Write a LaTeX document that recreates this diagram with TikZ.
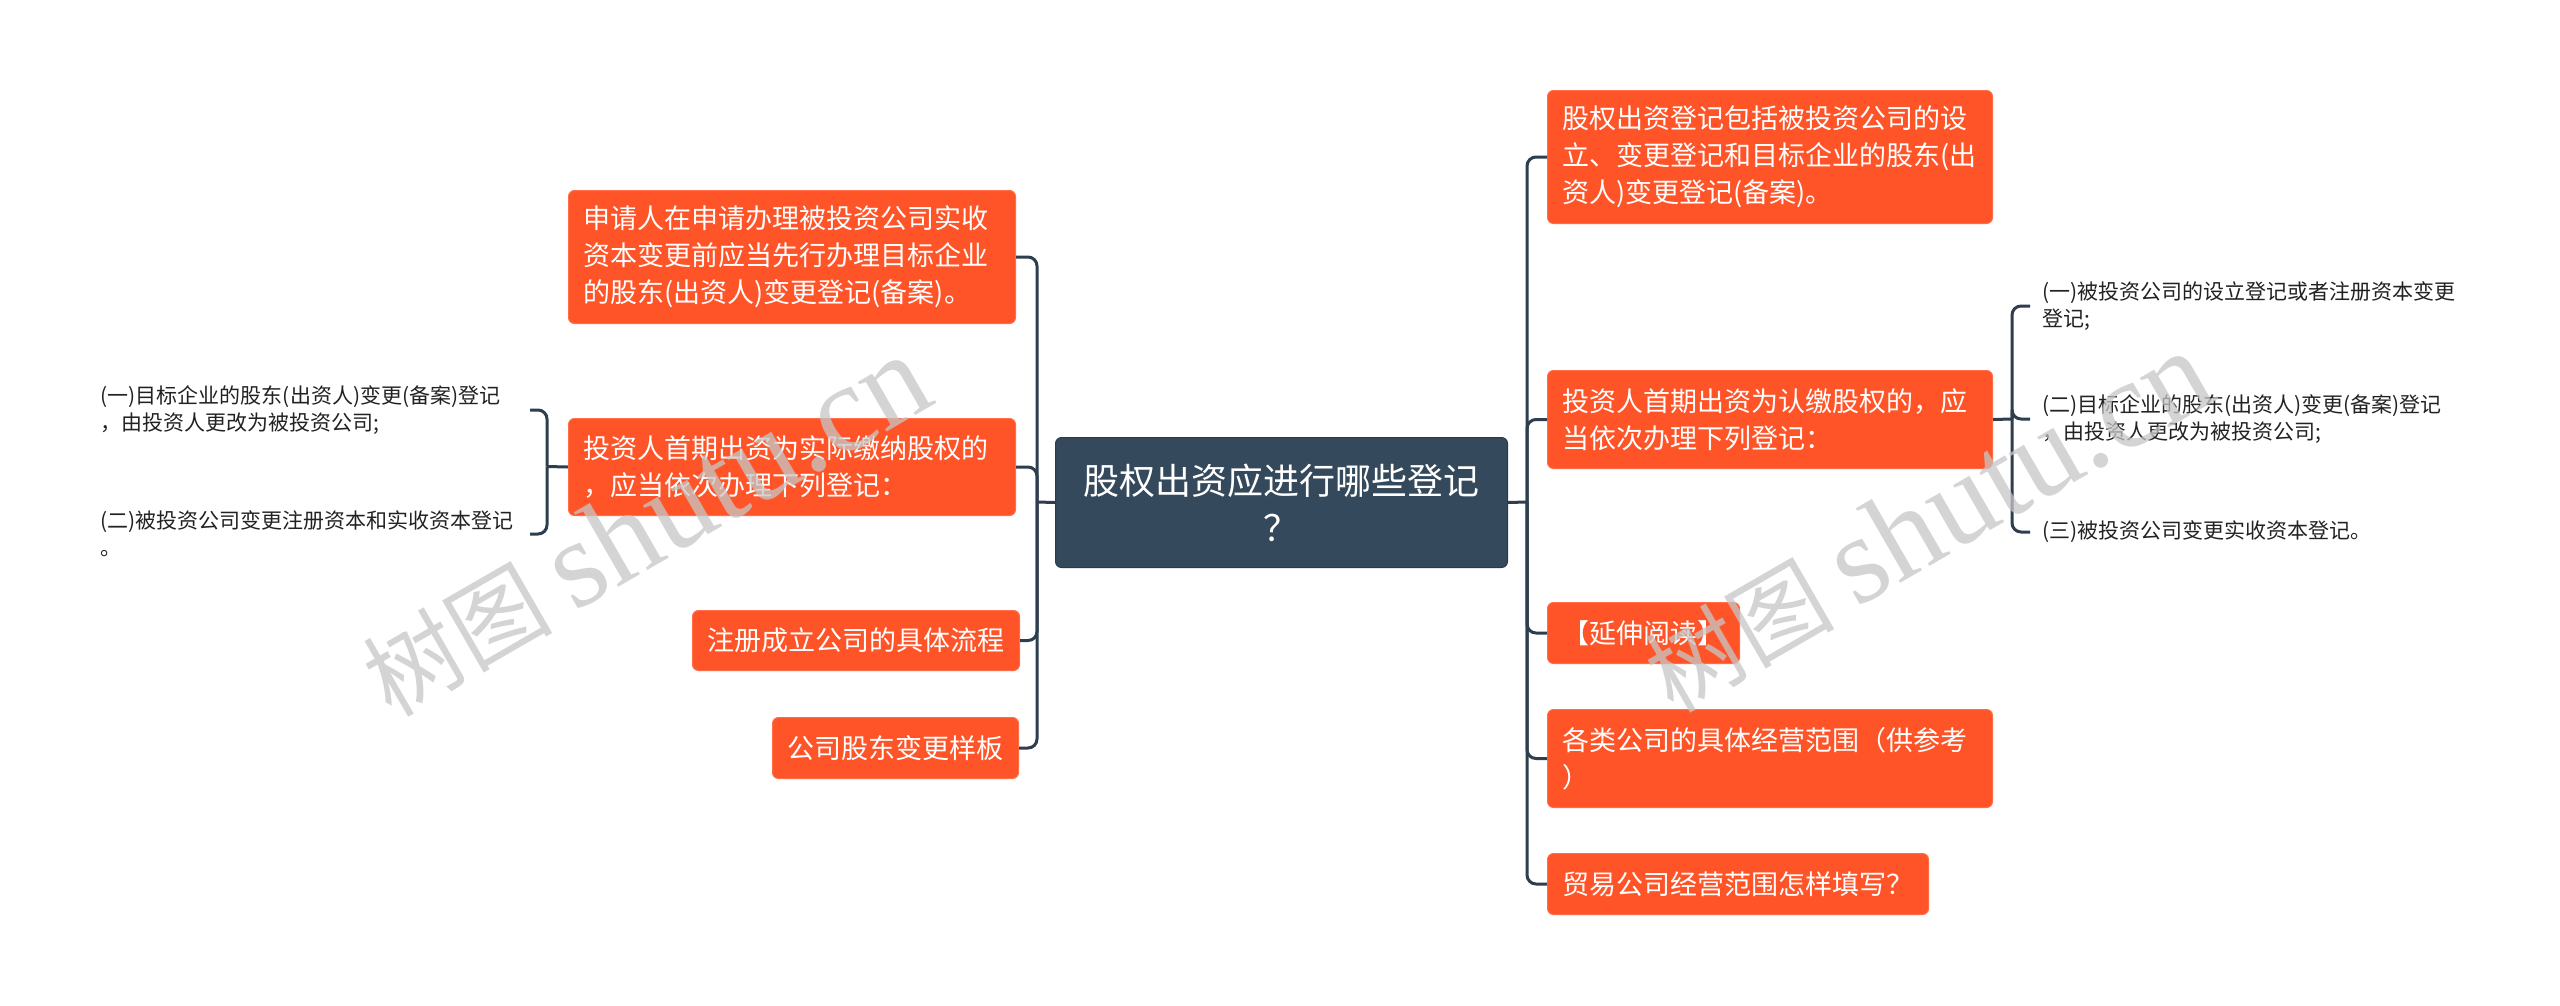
\documentclass[tikz,border=0pt]{standalone}
\usepackage{fontspec}
\setmainfont{Noto Sans CJK SC}
\newfontfamily\wmserif{Liberation Serif}
\definecolor{orangebox}{HTML}{FF5428}
\definecolor{darkbox}{HTML}{35495C}
\definecolor{linec}{HTML}{2E3E4E}
\definecolor{kidtext}{HTML}{222222}
\begin{document}
\begin{tikzpicture}[x=1pt,y=-1pt,
  box/.style={rectangle, rounded corners=6pt, fill=orangebox, draw=orangebox!85!white, line width=1pt,
    text=white, font=\fontsize{27}{37}\selectfont, inner xsep=15pt, inner ysep=0pt, anchor=north west},
  mbox/.style={box, align=left},
  sbox/.style={box, align=center},
  centre/.style={rectangle, rounded corners=6pt, fill=darkbox, draw=darkbox!80!black, line width=1pt,
    text=white, font=\fontsize{36}{47}\selectfont, align=center, inner sep=0pt, anchor=north west},
  kid/.style={font=\fontsize{21}{27}\selectfont, text=kidtext, align=left, inner xsep=12pt, inner ysep=2pt},
  conn/.style={draw=linec, line width=3pt, rounded corners=9pt},
  wm/.style={text=gray!45, opacity=0.75, rotate=30, inner sep=0pt}
]
\fill[white] (0,0) rectangle (2560,1005);
\useasboundingbox (0,0) rectangle (2560,1005);

% central
\node[centre, minimum width=452pt, minimum height=130pt] (C) at (1055,437) {股权出资应进行哪些登记\\？};

% left branch
\node[mbox, minimum width=447pt, minimum height=133pt, text width=417pt] (L1) at (568,190)
  {申请人在申请办理被投资公司实收\\资本变更前应当先行办理目标企业\\的股东(出资人)变更登记(备案)。};
\node[mbox, minimum width=447pt, minimum height=97pt, text width=417pt] (L2) at (568,418)
  {投资人首期出资为实际缴纳股权的\\，应当依次办理下列登记：};
\node[sbox, minimum width=323pt, minimum height=60pt] (L3) at (692,610) {注册成立公司的具体流程};
\node[sbox, minimum width=243pt, minimum height=61pt] (L4) at (772,717) {公司股东变更样板};

% right branch
\node[mbox, minimum width=445pt, minimum height=133pt, text width=415pt] (R1) at (1547,90)
  {股权出资登记包括被投资公司的设\\立、变更登记和目标企业的股东(出\\资人)变更登记(备案)。};
\node[mbox, minimum width=445pt, minimum height=98pt, text width=415pt] (R2) at (1547,370)
  {投资人首期出资为认缴股权的，应\\当依次办理下列登记：};
\node[sbox, minimum width=188pt, minimum height=61pt] (R3) at (1547,602) {【延伸阅读】};
\node[mbox, minimum width=445pt, minimum height=98pt, text width=415pt] (R4) at (1547,709)
  {各类公司的具体经营范围（供参考\\）};
\node[sbox, minimum width=377pt, minimum height=61pt] (R5) at (1547,853) {贸易公司经营范围怎样填写？};

% children of R2
\node[kid, anchor=west] (RC1) at (2030,306) {(一)被投资公司的设立登记或者注册资本变更\\登记;};
\node[kid, anchor=west] (RC2) at (2030,419) {(二)目标企业的股东(出资人)变更(备案)登记\\，由投资人更改为被投资公司;};
\node[kid, anchor=west] (RC3) at (2030,532) {(三)被投资公司变更实收资本登记。};

% children of L2
\node[kid, anchor=east, text width=417pt] (LC1) at (530,410) {(一)目标企业的股东(出资人)变更(备案)登记\\，由投资人更改为被投资公司;};
\node[kid, anchor=east, text width=417pt] (LC2) at (530,534) {(二)被投资公司变更注册资本和实收资本登记\\。};

% connectors
\coordinate (lj) at (1037,502);
\coordinate (rj) at (1527,502);
\draw[conn] (C.west) -- (lj);
\draw[conn] (C.east) -- (rj);
\foreach \n in {L1,L2,L3,L4} \draw[conn] (lj) |- (\n.east);
\foreach \n in {R1,R2,R3,R4,R5} \draw[conn] (rj) |- (\n.west);

\coordinate (rb) at (2012,419);
\draw[conn] (R2.east) -- (rb);
\foreach \n in {RC1,RC2,RC3} \draw[conn] (rb) |- (\n.west);

\coordinate (lb) at (547,466.5);
\draw[conn] (L2.west) -- (lb);
\foreach \n in {LC1,LC2} \draw[conn] (lb) |- (\n.east);

% watermarks
\node[wm] (wm1) at (645,526) {\fontsize{95}{100}\selectfont 树图 {\wmserif\fontsize{125}{130}\selectfont shutu.cn}};
\node[wm] (wm2) at (1927,522) {\fontsize{95}{100}\selectfont 树图 {\wmserif\fontsize{125}{130}\selectfont shutu.cn}};
\end{tikzpicture}
\end{document}
